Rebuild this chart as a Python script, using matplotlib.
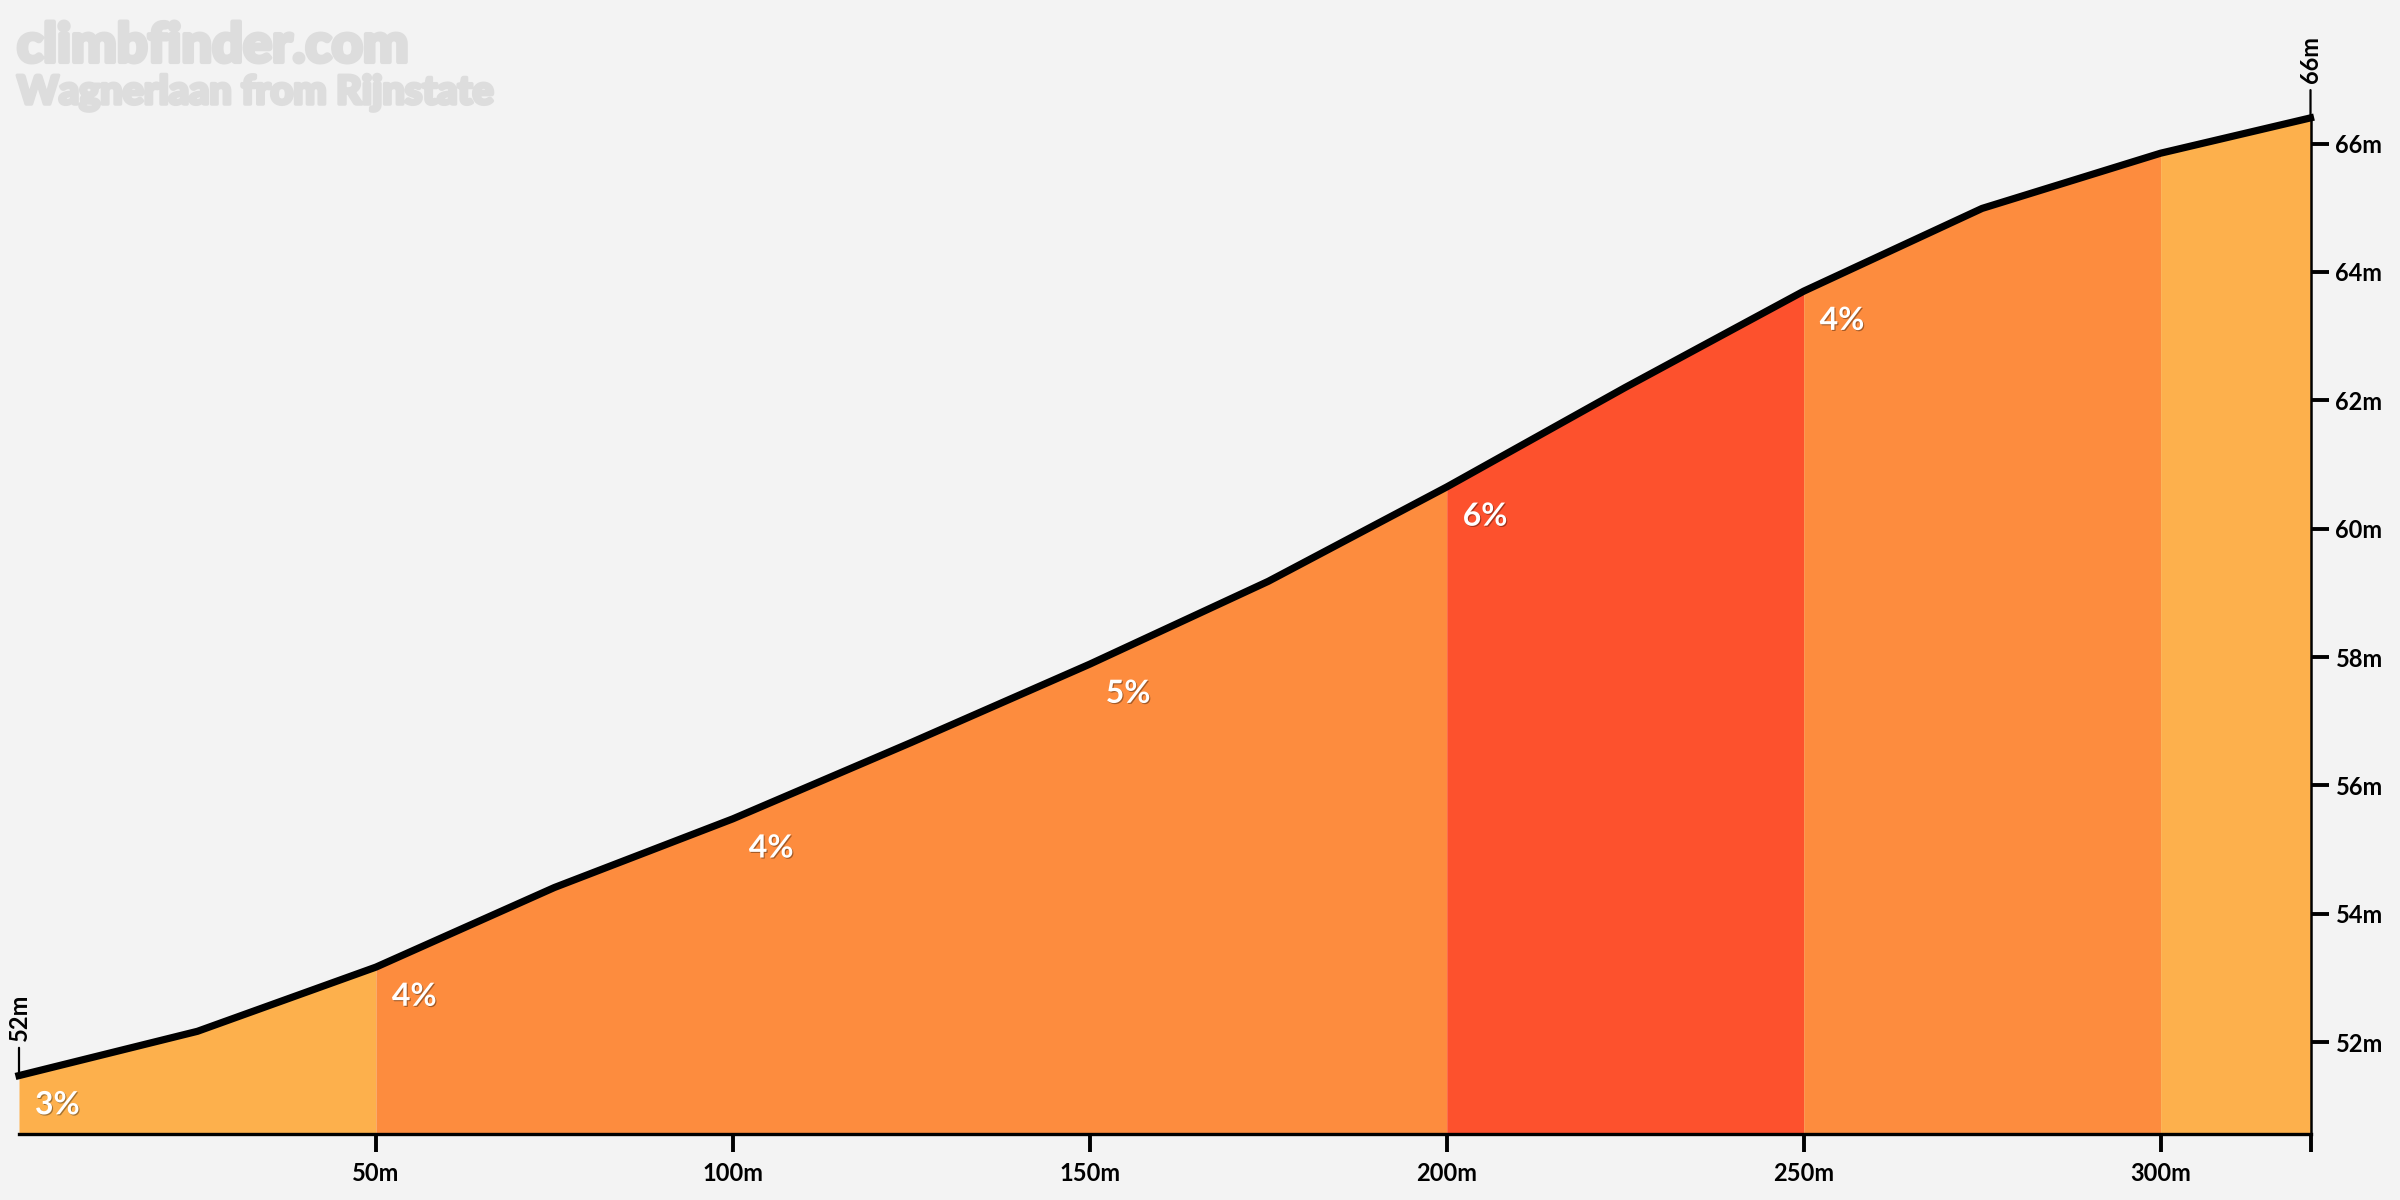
import matplotlib
matplotlib.use("Agg")
import matplotlib.pyplot as plt
import matplotlib.patheffects as pe
import numpy as np

# ---- data ----
distance_m = [0, 25, 50, 75, 100, 125, 150, 175, 200, 225, 250, 275, 300, 321]
elevation_m = [51.48, 52.17, 53.17, 54.41, 55.48, 56.67, 57.89, 59.18, 60.65, 62.2, 63.7, 64.99, 65.85, 66.4]

segment_bounds = [0, 50, 100, 150, 200, 250, 300, 321]
segment_labels = ["3%", "4%", "4%", "5%", "6%", "4%", ""]
segment_colors = ["#FDB04C", "#FD8C3E", "#FD8C3E", "#FD8C3E", "#FD512D", "#FD8C3E", "#FDB04C"]

xtick_values = [50, 100, 150, 200, 250, 300, 321]
xtick_labels = ["50m", "100m", "150m", "200m", "250m", "300m", ""]
ytick_values = [52, 54, 56, 58, 60, 62, 64, 66]
ytick_labels = ["52m", "54m", "56m", "58m", "60m", "62m", "64m", "66m"]

start_label = "52m"
end_label = "66m"
title_main = "climbfinder.com"
title_sub = "Wagnerlaan from Rijnstate"

BG = "#F3F3F3"
FONT = ["Lato", "DejaVu Sans"]
plt.rcParams["font.family"] = FONT

fig = plt.figure(figsize=(24, 12), dpi=100, facecolor=BG)
W, H = 2400, 1200
left_px, right_px, bottom_px, top_px = 19, 2310.5, 1134, 117.9
ax = fig.add_axes([left_px / W, 1 - bottom_px / H, (right_px - left_px) / W, (bottom_px - top_px) / H])
ax.set_facecolor(BG)
ymin, ymax = 50.57, 66.4
ax.set_xlim(distance_m[0], distance_m[-1])
ax.set_ylim(ymin, ymax)

x = np.array(distance_m, dtype=float)
y = np.array(elevation_m, dtype=float)

# coloured segments (consecutive segments of the same colour filled together)
runs = []
for i, c in enumerate(segment_colors):
    a, b = segment_bounds[i], segment_bounds[i + 1]
    if runs and runs[-1][2] == c:
        runs[-1][1] = b
    else:
        runs.append([a, b, c])
for a, b, c in runs:
    m = (x >= a) & (x <= b)
    ax.fill_between(x[m], ymin, y[m], color=c, linewidth=0, zorder=1)

# profile line
ax.plot(x, y, color="black", lw=5.2, solid_capstyle="projecting", solid_joinstyle="round",
        clip_on=False, zorder=3)

# gradient labels
shadow = [pe.withSimplePatchShadow(offset=(0.8, -0.8), shadow_rgbFace="black", alpha=0.35)]
for i, lab in enumerate(segment_labels):
    if not lab:
        continue
    a = segment_bounds[i]
    ya = float(np.interp(a, x, y))
    ax.annotate(lab, xy=(a, ya), xytext=(11.5, -21), textcoords="offset points",
                ha="left", va="center", color="white", fontsize=23, fontweight="bold",
                path_effects=shadow, zorder=4)

# start/end markers
for xv, lab in [(distance_m[0], start_label), (distance_m[-1], end_label)]:
    yv = float(np.interp(xv, x, y))
    ax.annotate("", xy=(xv, yv), xytext=(0, 20), textcoords="offset points",
                arrowprops=dict(arrowstyle="-", lw=1.6, color="black", shrinkA=0, shrinkB=0),
                annotation_clip=False, zorder=2)
    ax.annotate(lab, xy=(xv, yv), xytext=(0, 25), textcoords="offset points",
                rotation=90, ha="center", va="bottom", fontsize=17, fontweight="bold",
                color="black", annotation_clip=False)

# axes styling
for s in ["top", "left"]:
    ax.spines[s].set_visible(False)
ax.spines["bottom"].set_linewidth(2.4)
ax.spines["right"].set_linewidth(1.8)
ax.spines["right"].set_bounds(ymin, elevation_m[-1])
ax.spines["bottom"].set_zorder(5)

ax.set_xticks(xtick_values)
ax.set_xticklabels(xtick_labels)
ax.tick_params(axis="x", direction="out", length=13, width=2.8, pad=7, labelsize=17, colors="black")
ax.yaxis.tick_right()
ax.set_yticks(ytick_values)
ax.set_yticklabels(ytick_labels)
ax.tick_params(axis="y", direction="out", length=13, width=2.8, pad=5, labelsize=17, colors="black")
for t in ax.get_xticklabels() + ax.get_yticklabels():
    t.set_fontweight("bold")

# watermark titles
wm = "#DDDDDD"
fig.text(17 / W, 1 - 22 / H, title_main, ha="left", va="top", fontsize=39, fontweight="black",
         color=wm, path_effects=[pe.withStroke(linewidth=3, foreground=wm)])
fig.text(17 / W, 1 - 74 / H, title_sub, ha="left", va="top", fontsize=28.5, fontweight="black",
         color=wm, path_effects=[pe.withStroke(linewidth=2.5, foreground=wm)])

fig.savefig("out.png", dpi=100, facecolor=BG)
